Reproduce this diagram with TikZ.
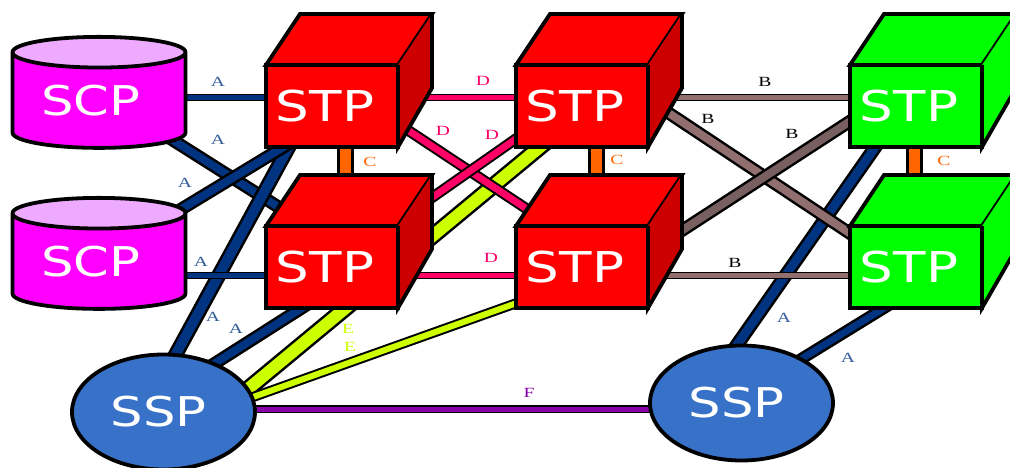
\documentclass[tikz,border=0pt]{standalone}
\usepackage{fontspec}
\usetikzlibrary{shapes.geometric}
\newfontfamily\boxfont[FakeStretch=1.25]{DejaVu Sans}
\newfontfamily\linkfont[FakeStretch=1.4]{Liberation Serif}
\pgfdeclarelayer{links}
\pgfsetlayers{links,main}
\definecolor{navy}{HTML}{003380}
\definecolor{pinkd}{HTML}{FF0066}
\definecolor{brownb}{HTML}{916F6F}
\definecolor{brownc}{HTML}{786060}
\definecolor{lime}{HTML}{CCFF00}
\definecolor{orangec}{HTML}{FF6600}
\definecolor{purplef}{HTML}{8800AA}
\definecolor{ssp}{HTML}{3771C8}
\definecolor{scpbody}{HTML}{FF00FF}
\definecolor{scpend}{HTML}{EEAAFF}
\newcommand{\cubefaces}[3]{
    \draw [face,fill=#2] (#1.north west) -- ++(34,-51) -- ++(132,0) -- (#1.north east) -- cycle;
    \draw [face,fill=#3,line cap=square] (#1.north east) ++(34,-51) -- ++(0,74) -- (#1.south east) -- (#1.north east);
}
\begin{document}
\begin{tikzpicture}[x=1pt,y=-1pt,
    face/.style={draw=black,line width=3.8pt,line join=miter},
    bigtext/.style={text=white,font=\boxfont\fontsize{#1}{#1}\selectfont,inner sep=0pt,outer sep=0pt},
    stpbox/.style={bigtext=42.5,rectangle,face,fill=#1,minimum width=132pt,minimum height=82pt,execute at end node={\hspace{14pt}}},
    scpbox/.style={bigtext=41,face,shape=cylinder,shape border rotate=90,aspect=0.266,minimum width=173pt,minimum height=111pt,cylinder uses custom fill,cylinder body fill=scpbody,cylinder end fill=scpend,execute at end node={\hspace{16pt}}},
    sspbox/.style={bigtext=41,ellipse,face,fill=ssp,minimum width=183pt,minimum height=115pt,execute at end node={\hspace{10pt}}},
    link/.style n args={3}{draw=black,line width=#3,double=#1,double distance=#2},
    tag/.style={text=#1,font=\linkfont\fontsize{14}{14}\selectfont,inner sep=0pt}]
    \useasboundingbox (0,0) rectangle (1010,468);

    %database nodes
    \node (SCP1) at (99,101) [scpbox]{SCP};
    \node (SCP2) at (99,262) [scpbox]{SCP};

    %stp nodes
    \node (STP1) at (332,106) [stpbox=red]{STP};
    \node (STP2) at (332,267) [stpbox=red]{STP};
    \node (STP3) at (582,106) [stpbox=red]{STP};
    \node (STP4) at (582,267) [stpbox=red]{STP};
    \node (STP5) at (916,106) [stpbox=green]{STP};
    \node (STP6) at (916,267) [stpbox=green]{STP};
    \cubefaces{STP1}{red}{red!80!black}
    \cubefaces{STP2}{red}{red!80!black}
    \cubefaces{STP3}{red}{red!80!black}
    \cubefaces{STP4}{red}{red!80!black}
    \cubefaces{STP5}{green}{green}
    \cubefaces{STP6}{green}{green}

    %ssp nodes
    \node (SSP1) at (163.5,412) [sspbox]{SSP};
    \node (SSP2) at (741.5,403) [sspbox]{SSP};

    \begin{pgfonlayer}{links}
    %links F
    \draw [link={purplef}{5pt}{1.5pt}] ([shift={(0,-3)}]SSP1.center) -- ([shift={(0,6)}]SSP2.center);

    %links E
    \draw [link={lime}{12pt}{2.5pt}] ([shift={(61.5,-4)}]SSP1.center) -- ([shift={(-7,12)}]STP3.center);
    \draw [link={lime}{6pt}{2pt}] ([shift={(70,-8)}]SSP1.center) -- ([shift={(-40,27)}]STP4.center);

    %links D
    \draw [link={pinkd}{5pt}{1pt}] ([shift={(0,-8)}]STP1.center) -- ([shift={(0,-8)}]STP3.center);
    \draw [link={pinkd}{5pt}{1pt}] ([shift={(0,8)}]STP2.center) -- ([shift={(0,8)}]STP4.center);
    \draw [link={pinkd}{7pt}{2pt}] ([shift={(53,9)}]STP1.center) -- ([shift={(-37,-46)}]STP4.center);
    \draw [link={pinkd}{7pt}{2pt}] ([shift={(-42,16)}]STP3.center) -- ([shift={(78,-54)}]STP2.center);

    %links A
    \draw [link={navy}{8pt}{2.5pt}] ([shift={(61,31)}]SCP1.center) -- ([shift={(-37,-49.5)}]STP2.center);
    \draw [link={navy}{10pt}{2.5pt}] ([shift={(1.5,-38)}]SSP1.center) -- ([shift={(-34,24)}]STP1.center);
    \draw [link={navy}{8pt}{2.5pt}] ([shift={(61,-40)}]SCP2.center) -- ([shift={(-32,31)}]STP1.center);
    \draw [link={navy}{5pt}{1pt}] ([shift={(0,-3)}]SCP1.center) -- ([shift={(0,-8)}]STP1.center);
    \draw [link={navy}{5pt}{1pt}] ([shift={(0,13)}]SCP2.center) -- ([shift={(0,8)}]STP2.center);
    \draw [link={navy}{8pt}{2.5pt}] ([shift={(31.5,-36)}]SSP1.center) -- ([shift={(-2,23)}]STP2.center);
    \draw [link={navy}{9pt}{2.5pt}] ([shift={(-16.5,-41)}]SSP2.center) -- ([shift={(-26,20)}]STP5.center);
    \draw [link={navy}{7pt}{2.5pt}] ([shift={(43.5,-34)}]SSP2.center) -- ([shift={(-6,25)}]STP6.center);

    %links B
    \draw [link={brownb}{5pt}{1pt}] ([shift={(0,-8)}]STP3.center) -- ([shift={(0,-8)}]STP5.center);
    \draw [link={brownb}{5pt}{1pt}] ([shift={(0,8)}]STP4.center) -- ([shift={(0,8)}]STP6.center);
    \draw [link={brownb}{8pt}{2.5pt}] ([shift={(58,-12)}]STP3.center) -- ([shift={(-41,-17)}]STP6.center);
    \draw [link={brownc}{8pt}{2.5pt}] ([shift={(73,-19)}]STP4.center) -- ([shift={(-41,-1)}]STP5.center);

    %links C
    \draw [link={orangec}{11pt}{3pt}] ([shift={(13,34)}]STP1.center) -- ([shift={(13,-82)}]STP2.center);
    \draw [link={orangec}{11pt}{3pt}] ([shift={(14,34)}]STP3.center) -- ([shift={(14,-82)}]STP4.center);
    \draw [link={orangec}{11pt}{3pt}] ([shift={(-2,34)}]STP5.center) -- ([shift={(-2,-82)}]STP6.center);
    \end{pgfonlayer}

    %labels
    \node (A1) at (218,82) [tag=navy!80!white]{A};
    \node (A2) at (218,140) [tag=navy!80!white]{A};
    \node (A3) at (185,183) [tag=navy!80!white]{A};
    \node (A4) at (201,262) [tag=navy!80!white]{A};
    \node (A5) at (213,317) [tag=navy!80!white]{A};
    \node (A6) at (236,329) [tag=navy!80!white]{A};
    \node (A7) at (784,318) [tag=navy!80!white]{A};
    \node (A8) at (848,358) [tag=navy!80!white]{A};
    \node (B1) at (765,82) [tag=black]{B};
    \node (B2) at (708,119) [tag=black]{B};
    \node (B3) at (792,134) [tag=black]{B};
    \node (B4) at (735,263) [tag=black]{B};
    \node (C1) at (370,162) [tag=orangec]{C};
    \node (C2) at (617,160) [tag=orangec]{C};
    \node (C3) at (944,161) [tag=orangec]{C};
    \node (D1) at (483,81) [tag=pinkd]{D};
    \node (D2) at (443,131) [tag=pinkd]{D};
    \node (D3) at (492,135) [tag=pinkd]{D};
    \node (D4) at (491,258) [tag=pinkd]{D};
    \node (E1) at (348,329) [tag=lime]{E};
    \node (E2) at (350,347) [tag=lime]{E};
    \node (F1) at (529,393) [tag=purplef]{F};
  \end{tikzpicture}
\end{document}
